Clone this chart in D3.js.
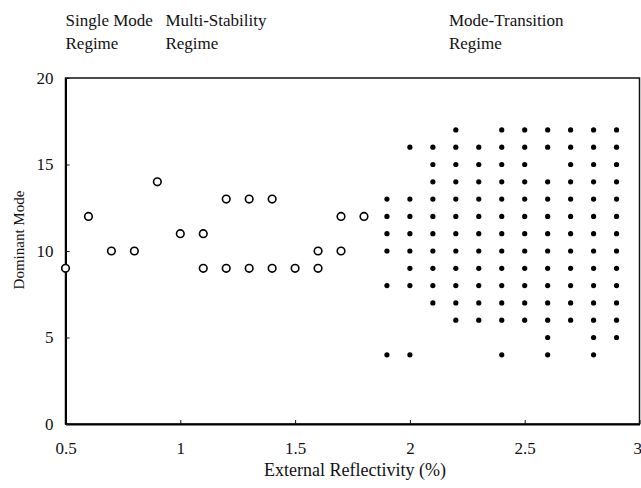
<!DOCTYPE html>
<html><head><meta charset="utf-8">
<script src="https://cdn.jsdelivr.net/npm/d3@7"></script>
<style>body{margin:0;background:#fff}svg{display:block}text{font-family:"Liberation Serif","Times New Roman",serif;fill:#111}</style>
</head><body><svg id="c" width="641" height="488"></svg>
<script>
// Open circles: single mode + multi-stability regime [reflectivity, mode]
const openX = [0.5, 0.6, 0.7, 0.8, 0.9, 1.0, 1.1, 1.1, 1.2, 1.2, 1.3, 1.3, 1.4, 1.4, 1.5, 1.6, 1.6, 1.7, 1.7, 1.8];
const openY = [9, 12, 10, 10, 14, 11, 11, 9, 13, 9, 13, 9, 13, 9, 9, 10, 9, 12, 10, 12];
// Filled dots: mode-transition regime, modes observed per reflectivity column
const filledCols = [1.9, 2.0, 2.1, 2.2, 2.3, 2.4, 2.5, 2.6, 2.7, 2.8, 2.9];
const filledModes = [
  [13, 12, 11, 10, 8, 4],
  [16, 13, 12, 11, 10, 9, 8, 4],
  [16, 15, 14, 13, 12, 11, 10, 9, 8, 7],
  [17, 16, 15, 14, 13, 12, 11, 10, 9, 8, 7, 6],
  [16, 15, 14, 13, 12, 11, 10, 9, 8, 7, 6],
  [17, 16, 15, 14, 13, 12, 11, 10, 9, 8, 7, 6, 4],
  [17, 16, 15, 14, 13, 12, 11, 10, 9, 8, 7, 6],
  [17, 16, 14, 13, 12, 11, 10, 9, 8, 7, 6, 5, 4],
  [17, 16, 15, 14, 13, 12, 11, 10, 9, 8, 7, 6],
  [17, 16, 15, 14, 13, 12, 11, 10, 9, 8, 7, 6, 5, 4],
  [17, 16, 15, 14, 13, 12, 11, 10, 9, 8, 7, 6, 5]
];
const xTicks = [0.5, 1, 1.5, 2, 2.5, 3];
const yTicks = [0, 5, 10, 15, 20];
const regimeLabels = [["Single Mode", "Regime", 0.5], ["Multi-Stability", "Regime", 0.935], ["Mode-Transition", "Regime", 2.17]];

const svg = d3.select("#c");
const L = 65.5, R = 639.5, T = 78, B = 424;
const x = d3.scaleLinear().domain([0.5, 3]).range([L, R]);
const y = d3.scaleLinear().domain([0, 20]).range([B, T]);

// frame
svg.append("rect").attr("x", L).attr("y", T).attr("width", R - L).attr("height", B - T)
  .attr("fill", "none").attr("stroke", "#111").attr("stroke-width", 1.5);

// axes
const xa = svg.append("g").attr("transform", `translate(0,${B})`)
  .call(d3.axisBottom(x).tickValues(xTicks).tickSizeInner(-4).tickSizeOuter(0).tickPadding(18).tickFormat(d3.format("")));
xa.select(".domain").attr("stroke-width", 2);
xa.selectAll("text").attr("font-size", 17).attr("dy", "0.71em")
  .attr("text-anchor", d => d === 3 ? "end" : "middle").attr("dx", d => d === 3 ? 2 : 0);
const ya = svg.append("g").attr("transform", `translate(${L},0)`)
  .call(d3.axisLeft(y).tickValues(yTicks).tickSizeInner(-4).tickSizeOuter(0).tickPadding(12));
ya.select(".domain").attr("stroke-width", 2);
ya.selectAll("text").attr("font-size", 17);
svg.selectAll(".tick line").attr("stroke", "#111");
svg.selectAll(".tick text").style("font-family", '"Liberation Serif",serif').attr("fill", "#111");

// axis titles
svg.append("text").attr("x", 355).attr("y", 476).attr("text-anchor", "middle")
  .attr("font-size", 18).text("External Reflectivity (%)");
svg.append("text").attr("transform", `translate(24,240) rotate(-90)`).attr("text-anchor", "middle")
  .attr("font-size", 15).text("Dominant Mode");

// regime labels
regimeLabels.forEach(([a, b, xv]) => {
  const g = svg.append("text").attr("x", x(xv)).attr("y", 26).attr("font-size", 17);
  g.append("tspan").attr("x", x(xv)).text(a);
  g.append("tspan").attr("x", x(xv)).attr("dy", 23).text(b);
});

// filled dots
const filled = [];
filledCols.forEach((c, i) => filledModes[i].forEach(m => filled.push([c, m])));
svg.append("g").selectAll("circle").data(filled).join("circle")
  .attr("cx", d => x(d[0])).attr("cy", d => y(d[1])).attr("r", 2.6).attr("fill", "#000");

// open circles
svg.append("g").selectAll("circle").data(openX.map((v, i) => [v, openY[i]])).join("circle")
  .attr("cx", d => x(d[0])).attr("cy", d => y(d[1])).attr("r", 3.8)
  .attr("fill", "#fff").attr("stroke", "#000").attr("stroke-width", 1.6);
</script></body></html>
